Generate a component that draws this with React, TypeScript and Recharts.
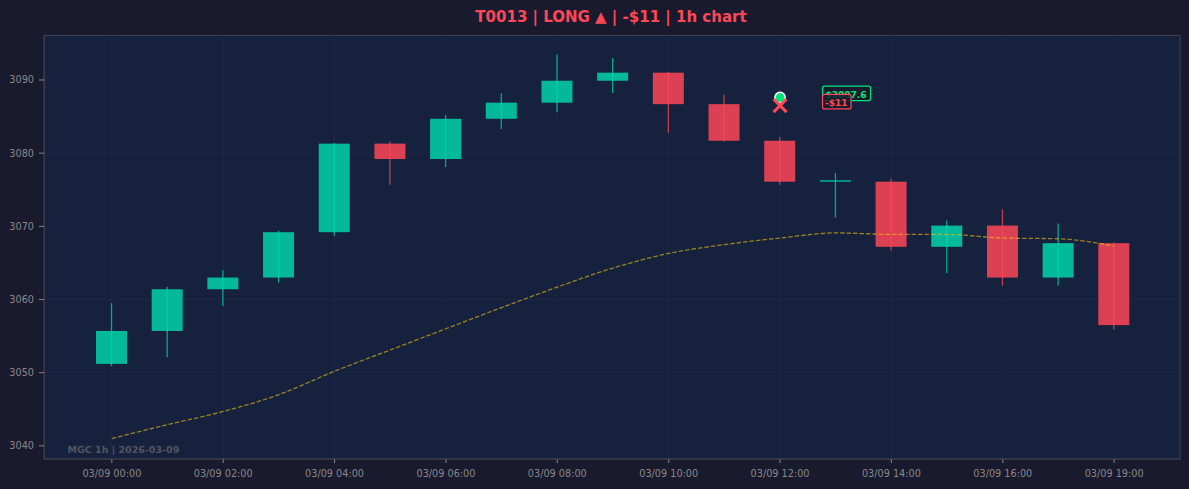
import { ComposedChart, Bar, Line, XAxis, YAxis, CartesianGrid, ReferenceDot } from "recharts"

const times = [
  "03/09 00:00", "03/09 01:00", "03/09 02:00", "03/09 03:00", "03/09 04:00",
  "03/09 05:00", "03/09 06:00", "03/09 07:00", "03/09 08:00", "03/09 09:00",
  "03/09 10:00", "03/09 11:00", "03/09 12:00", "03/09 13:00", "03/09 14:00",
  "03/09 15:00", "03/09 16:00", "03/09 18:00", "03/09 19:00",
]
const xTicks = times.filter((_, i) => i % 2 === 0)
const opens = [3051.2, 3055.7, 3061.4, 3063.0, 3069.2, 3081.3, 3079.2, 3084.7, 3086.9, 3089.9, 3091.0, 3086.7, 3081.7, 3076.1, 3076.1, 3067.2, 3070.1, 3063.0, 3067.7]
const closes = [3055.7, 3061.4, 3063.0, 3069.2, 3081.3, 3079.2, 3084.7, 3086.9, 3089.9, 3091.0, 3086.7, 3081.7, 3076.1, 3076.2, 3067.2, 3070.1, 3063.0, 3067.7, 3056.5]
const highs = [3059.5, 3061.7, 3064.0, 3069.4, 3081.4, 3081.6, 3085.2, 3088.2, 3093.5, 3093.0, 3091.1, 3088.0, 3082.2, 3077.3, 3076.5, 3070.8, 3072.3, 3070.4, 3067.8]
const lows = [3050.9, 3052.1, 3059.1, 3062.3, 3068.7, 3075.7, 3078.1, 3083.3, 3085.6, 3088.2, 3082.8, 3081.6, 3075.7, 3071.2, 3066.7, 3063.6, 3061.9, 3061.9, 3055.9]
const maValues = [3041.0, 3042.9, 3044.7, 3047.0, 3050.2, 3053.1, 3056.0, 3058.9, 3061.7, 3064.3, 3066.3, 3067.5, 3068.4, 3069.1, 3068.9, 3068.9, 3068.4, 3068.3, 3067.3]
const yTicks = [3040, 3050, 3060, 3070, 3080, 3090]

const entryTime = "03/09 12:00"
const entryPrice = 3087.6
const exitPrice = 3086.5

const UP = "#00d4aa"
const DOWN = "#ff4757"
const BORDER = "#3c3c4c"
const TICK = "#888"

const data = times.map((t, i) => ({
  t,
  open: opens[i],
  close: closes[i],
  high: highs[i],
  low: lows[i],
  ma: maValues[i],
}))

const Candle = (props: any) => {
  const { x, y, width, height, payload } = props
  const { open, close, high, low } = payload
  const top = Math.min(y, y + height)
  const h = Math.abs(height)
  const per = h / (high - low)
  const yOf = (v: number) => top + (high - v) * per
  const color = close >= open ? UP : DOWN
  const bTop = yOf(Math.max(open, close))
  const bBot = yOf(Math.min(open, close))
  const cx = x + width / 2
  return (
    <g>
      {bBot - bTop < 1.2 ? (
        <line x1={x} x2={x + width} y1={bTop} y2={bTop} stroke={color} strokeWidth={1.2} />
      ) : (
        <rect x={x} y={bTop} width={width} height={bBot - bTop} fill={color} fillOpacity={0.85} />
      )}
      <line x1={cx} x2={cx} y1={yOf(high)} y2={yOf(low)} stroke={color} strokeWidth={1.3} strokeOpacity={0.75} />
    </g>
  )
}

const EntryMark = (props: any) => {
  const { cx, cy } = props
  return (
    <g>
      <circle cx={cx} cy={cy} r={5.2} fill="#00e676" stroke="#fff" strokeWidth={1.5} />
      <rect x={cx + 42.5} y={cy - 11.5} width={48} height={14.5} rx={2} fill="#1a1a2e" fillOpacity={0.85} stroke="#00e676" strokeWidth={1.2} />
      <text x={cx + 45.5} y={cy} fontSize={9} fontWeight="bold" fill="#00e676">${entryPrice}</text>
    </g>
  )
}

const ExitMark = (props: any) => {
  const { cx, cy } = props
  const s = 6.5
  return (
    <g>
      <line x1={cx - s} y1={cy - s} x2={cx + s} y2={cy + s} stroke={DOWN} strokeWidth={3} />
      <line x1={cx - s} y1={cy + s} x2={cx + s} y2={cy - s} stroke={DOWN} strokeWidth={3} />
      <rect x={cx + 42.5} y={cy - 11.2} width={28.5} height={14.5} rx={2} fill="#1a1a2e" fillOpacity={0.85} stroke={DOWN} strokeWidth={1.2} />
      <text x={cx + 45} y={cy + 0.8} fontSize={9} fontWeight="bold" fill={DOWN}>-$11</text>
    </g>
  )
}

const App = () => {
  return (
    <div style={{ position: "absolute", left: 0, top: 0, width: 1189, height: 489, background: "#1a1a2e", fontFamily: "'DejaVu Sans', sans-serif" }}>
      <ComposedChart width={1189} height={489} data={data} margin={{ top: 35, right: 9, bottom: 0, left: 0 }}>
        <CartesianGrid stroke="rgba(255,255,255,0.03)" fill="#16213e" />
        <XAxis
          dataKey="t"
          ticks={xTicks}
          interval={0}
          padding={{ left: 40, right: 38 }}
          height={30}
          tickSize={4}
          tickMargin={7}
          tick={{ fill: TICK, fontSize: 9.7 }}
          tickLine={{ stroke: TICK }}
          axisLine={{ stroke: BORDER }}
        />
        <YAxis
          domain={[3038.2, 3096.15]}
          ticks={yTicks}
          allowDataOverflow
          width={44}
          tickSize={5}
          tickMargin={5}
          tick={{ fill: TICK, fontSize: 9.7 }}
          tickLine={{ stroke: TICK }}
          axisLine={{ stroke: BORDER }}
        />
        <Bar dataKey={(d: any) => [d.low, d.high]} barSize={31} shape={Candle} isAnimationActive={false} />
        <Line type="monotone" dataKey="ma" stroke="#f1c40f" strokeOpacity={0.6} strokeWidth={1.3} strokeDasharray="4.5 2" dot={false} activeDot={false} isAnimationActive={false} />
        <ReferenceDot x={entryTime} y={entryPrice} r={5} shape={EntryMark} />
        <ReferenceDot x={entryTime} y={exitPrice} r={5} shape={ExitMark} />
      </ComposedChart>
      <svg width={1189} height={489} style={{ position: "absolute", left: 0, top: 0, pointerEvents: "none" }}>
        <rect x={44.5} y={35.5} width={1135.5} height={423.5} fill="none" stroke={BORDER} />
        <text x={611} y={22} textAnchor="middle" fontSize={15} fontWeight="bold" fill={DOWN}>
          T0013 | LONG ▲ | -$11 | 1h chart
        </text>
        <text x={67.5} y={452.5} fontSize={9.5} fontWeight="bold" fill="#55555f">
          MGC 1h | 2026-03-09
        </text>
      </svg>
    </div>
  )
}

export default App
